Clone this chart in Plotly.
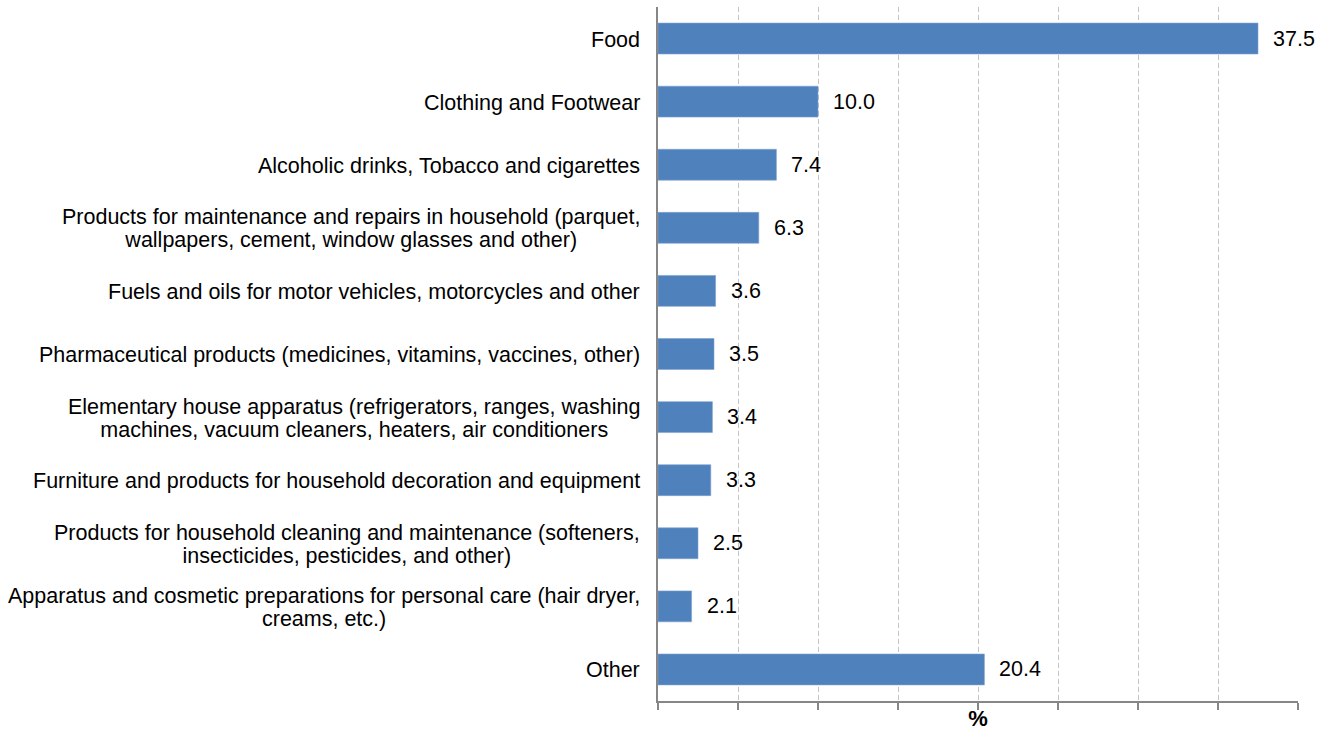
import plotly.graph_objects as go

categories = [
    "Food",
    "Clothing and Footwear",
    "Alcoholic drinks, Tobacco and cigarettes",
    "Products for maintenance and repairs in household (parquet,<br>wallpapers, cement, window glasses and other)",
    "Fuels and oils for motor vehicles, motorcycles and other",
    "Pharmaceutical products (medicines, vitamins, vaccines, other)",
    "Elementary house apparatus (refrigerators, ranges, washing<br>machines, vacuum cleaners, heaters, air conditioners",
    "Furniture and products for household decoration and equipment",
    "Products for household cleaning and maintenance (softeners,<br>insecticides, pesticides, and other)",
    "Apparatus and cosmetic preparations for personal care (hair dryer,<br>creams, etc.)",
    "Other",
]
values = [37.5, 10.0, 7.4, 6.3, 3.6, 3.5, 3.4, 3.3, 2.5, 2.1, 20.4]
value_labels = [f"{v:.1f}" for v in values]

FONT = "Liberation Sans, Arial, sans-serif"
FS = 21.5


def big(line):
    return f'<span style="font-size:{FS}px">{line}</span>'


fig = go.Figure()
fig.add_trace(go.Bar(
    x=values,
    y=categories,
    orientation="h",
    marker=dict(color="#4F81BD", line=dict(color="#7FA3D0", width=0.6)),
    hoverinfo="x+y",
))

annotations = []
for cat, v, lab in zip(categories, values, value_labels):
    annotations.append(dict(
        x=v, y=cat, xref="x", yref="y", text=lab, showarrow=False,
        xanchor="left", xshift=13, font=dict(family=FONT, size=FS, color="#000000"),
    ))
    label_text = "<br>".join(big(part) for part in cat.split("<br>"))
    annotations.append(dict(
        x=0, y=cat, xref="paper", yref="y", text=label_text, showarrow=False,
        xanchor="right", align="center", xshift=-16, yshift=-1,
        font=dict(family=FONT, size=18, color="#000000"),
    ))

fig.update_layout(
    width=1330, height=734,
    margin=dict(l=658, r=32, t=7, b=33),
    paper_bgcolor="white", plot_bgcolor="white",
    bargap=0.51,
    showlegend=False,
    font=dict(family=FONT, size=FS, color="#000000"),
    annotations=annotations,
    xaxis=dict(
        range=[0, 40], dtick=5, tick0=0,
        showticklabels=False,
        showgrid=True, gridcolor="#C4C4C4", griddash="5px,3px", gridwidth=1,
        showline=True, linecolor="#868686", linewidth=1.5,
        ticks="outside", ticklen=7, tickcolor="#868686", tickwidth=1.5,
        zeroline=False,
        title=dict(text="<b>%</b>", font=dict(family=FONT, size=22, color="#000000"), standoff=2),
    ),
    yaxis=dict(
        autorange="reversed",
        showticklabels=False,
        showgrid=False,
        showline=True, linecolor="#868686", linewidth=1.5,
        ticks="",
        zeroline=False,
    ),
)

fig.write_html("out.html")
